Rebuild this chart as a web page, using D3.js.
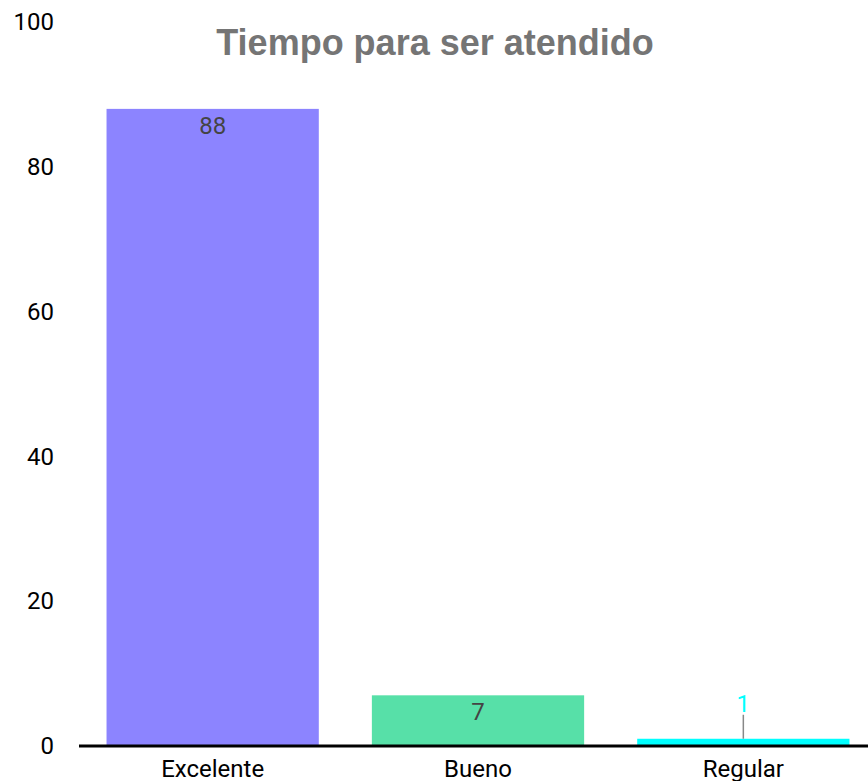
<!DOCTYPE html>
<html>
<head>
<meta charset="utf-8">
<script src="https://cdn.jsdelivr.net/npm/d3@7"></script>
<style>
  body { margin: 0; background: #fff; }
  svg { display: block; }
</style>
</head>
<body>
<div id="chart"></div>
<script>
const categories = ['Excelente', 'Bueno', 'Regular'];
const values = [88, 7, 1];
const barColors = ['#8c84ff', '#57e0a8', '#00ffff'];
const yTicks = [0, 20, 40, 60, 80, 100];

const width = 868;
const height = 781;

const svg = d3.select('#chart')
  .append('svg')
  .attr('width', width)
  .attr('height', height);

// scales
const x = d3.scaleBand()
  .domain(categories)
  .range([80, 876])
  .paddingInner(0.2)
  .paddingOuter(0.1);

const y = d3.scaleLinear()
  .domain([0, 100])
  .range([746, 22]);

// y tick labels (no axis line)
svg.append('g')
  .attr('transform', 'translate(54,0)')
  .call(d3.axisLeft(y).tickValues(yTicks).tickSize(0).tickPadding(0))
  .call(g => g.select('.domain').remove())
  .selectAll('text')
  .attr('font-family', 'Roboto')
  .attr('font-size', 24)
  .attr('fill', '#000');

// bars
svg.selectAll('rect.bar')
  .data(values)
  .enter()
  .append('rect')
  .attr('class', 'bar')
  .attr('x', (d, i) => x(categories[i]))
  .attr('y', d => y(d))
  .attr('width', x.bandwidth())
  .attr('height', d => y(0) - y(d))
  .attr('fill', (d, i) => barColors[i]);

// x axis
svg.append('g')
  .attr('transform', `translate(0,${y(0)})`)
  .call(d3.axisBottom(x).tickSize(0).tickPadding(14))
  .call(g => g.select('.domain').remove())
  .selectAll('text')
  .attr('font-family', 'Roboto')
  .attr('font-size', 24)
  .attr('fill', '#000');

svg.append('line')
  .attr('x1', 79)
  .attr('x2', width)
  .attr('y1', y(0))
  .attr('y2', y(0))
  .attr('stroke', '#000')
  .attr('stroke-width', 3);

// value labels: inside the bar when it fits, else above with leader line
values.forEach((v, i) => {
  const cx = x(categories[i]) + x.bandwidth() / 2;
  const barH = y(0) - y(v);
  if (barH > 30) {
    svg.append('text')
      .attr('x', cx)
      .attr('y', y(v) + 25)
      .attr('text-anchor', 'middle')
      .attr('font-family', 'Roboto')
      .attr('font-size', 24)
      .attr('fill', '#444')
      .text(v);
  } else {
    svg.append('line')
      .attr('x1', cx).attr('x2', cx)
      .attr('y1', y(v)).attr('y2', y(v) - 24)
      .attr('stroke', '#888')
      .attr('stroke-width', 1.5);
    svg.append('text')
      .attr('x', cx)
      .attr('y', y(v) - 27)
      .attr('text-anchor', 'middle')
      .attr('font-family', 'Roboto')
      .attr('font-size', 24)
      .attr('fill', barColors[i])
      .text(v);
  }
});

// title
svg.append('text')
  .attr('x', 435)
  .attr('y', 55)
  .attr('text-anchor', 'middle')
  .attr('font-family', 'Liberation Sans, Arial, sans-serif')
  .attr('font-weight', 'bold')
  .attr('font-size', 36)
  .attr('fill', '#757575')
  .text('Tiempo para ser atendido');
</script>
</body>
</html>
